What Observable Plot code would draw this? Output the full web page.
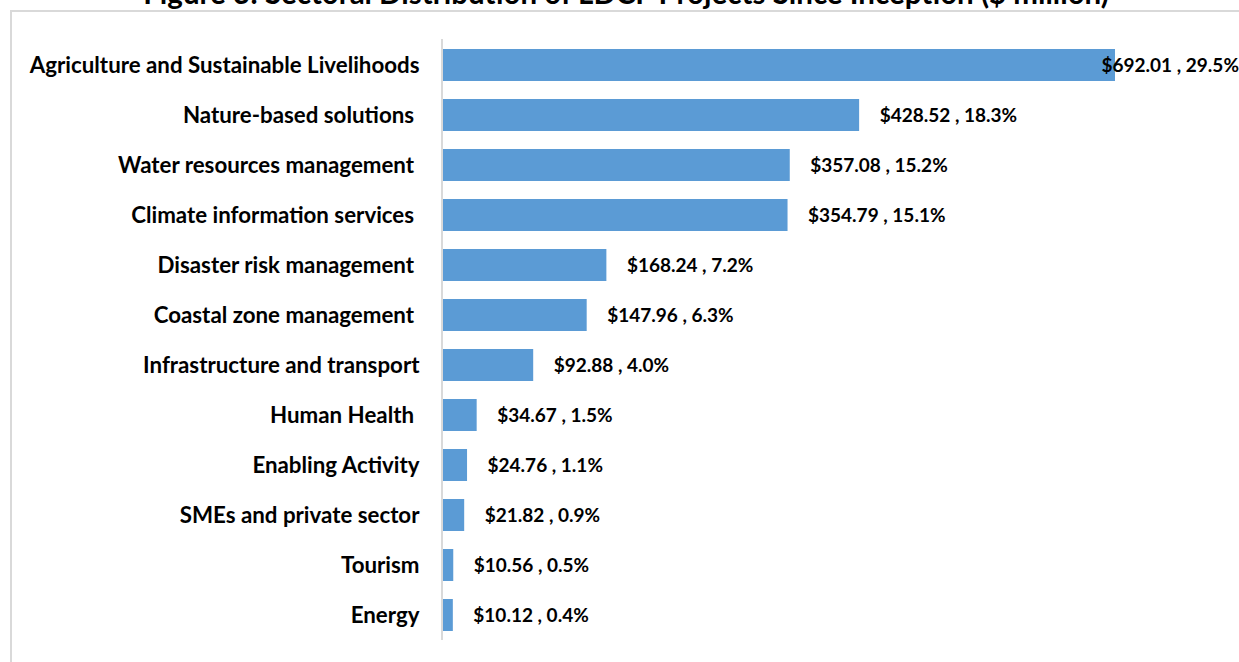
<!DOCTYPE html>
<html>
<head>
<meta charset="utf-8">
<script src="https://cdn.jsdelivr.net/npm/d3@7"></script>
<script src="https://cdn.jsdelivr.net/npm/@observablehq/plot@0.6"></script>
<style>
  html, body { margin: 0; padding: 0; background: #fff; overflow: hidden; width: 1239px; height: 662px; }
  #frame { position: absolute; left: 10px; top: 10px; width: 1300px; height: 700px; border-left: 2px solid #d9d9d9; border-top: 2px solid #d9d9d9; }
  #title { position: absolute; left: 0; width: 1252px; top: -24px; text-align: center; font-family: Lato, "Open Sans", sans-serif; font-weight: bold; font-size: 29.5px; line-height: 34px; color: #000; white-space: nowrap; }
  #chart { position: absolute; left: 0; top: 0; }
</style>
</head>
<body>
<div id="frame"></div>
<div id="title">Figure 3: Sectoral Distribution of LDCF Projects Since Inception ($ million)</div>
<div id="chart"></div>
<script>
const sectors = [
  "Agriculture and Sustainable Livelihoods",
  "Nature-based solutions\u00A0",
  "Water resources management\u00A0",
  "Climate information services\u00A0",
  "Disaster risk management\u00A0",
  "Coastal zone management\u00A0",
  "Infrastructure and transport",
  "Human Health\u00A0",
  "Enabling Activity",
  "SMEs and private sector",
  "Tourism",
  "Energy"
];
const amounts = [692.01, 428.52, 357.08, 354.79, 168.24, 147.96, 92.88, 34.67, 24.76, 21.82, 10.56, 10.12];
const shares = ["29.5%", "18.3%", "15.2%", "15.1%", "7.2%", "6.3%", "4.0%", "1.5%", "1.1%", "0.9%", "0.5%", "0.4%"];

const data = sectors.map((s, i) => ({sector: s, amount: amounts[i], share: shares[i], label: `$${amounts[i].toFixed(2)}\u00A0,\u00A0${shares[i]}`}));
const maxAmount = d3.max(amounts);

const chart = Plot.plot({
  width: 1239,
  height: 662,
  marginLeft: 443,
  marginRight: 124,
  marginTop: 39,
  marginBottom: 22,
  style: {fontFamily: "Lato, 'Open Sans', sans-serif", background: "transparent"},
  x: {domain: [0, maxAmount], axis: null},
  y: {domain: sectors, paddingInner: 0.36, paddingOuter: 0.18, label: null},
  marks: [
    Plot.axisY({tickSize: 0, tickPadding: 24, fontSize: 22.3, fontWeight: "bold", fill: "#000", label: null}),
    Plot.barX(data, {x: "amount", y: "sector", fill: "#5B9BD5"}),
    Plot.ruleX([0], {stroke: "#d9d9d9", strokeWidth: 2, dx: -1.5}),
    Plot.text(data, {
      x: "amount", y: "sector", text: "label",
      textAnchor: "start",
      dx: 20,
      fontSize: 19, fontWeight: "bold", fill: "#000",
      filter: d => d.amount < maxAmount
    }),
    Plot.text(data, {
      x: "amount", y: "sector", text: "label",
      textAnchor: "start",
      dx: -14,
      fontSize: 19, fontWeight: "bold", fill: "#000",
      filter: d => d.amount === maxAmount
    })
  ]
});
document.getElementById("chart").appendChild(chart);
</script>
</body>
</html>
